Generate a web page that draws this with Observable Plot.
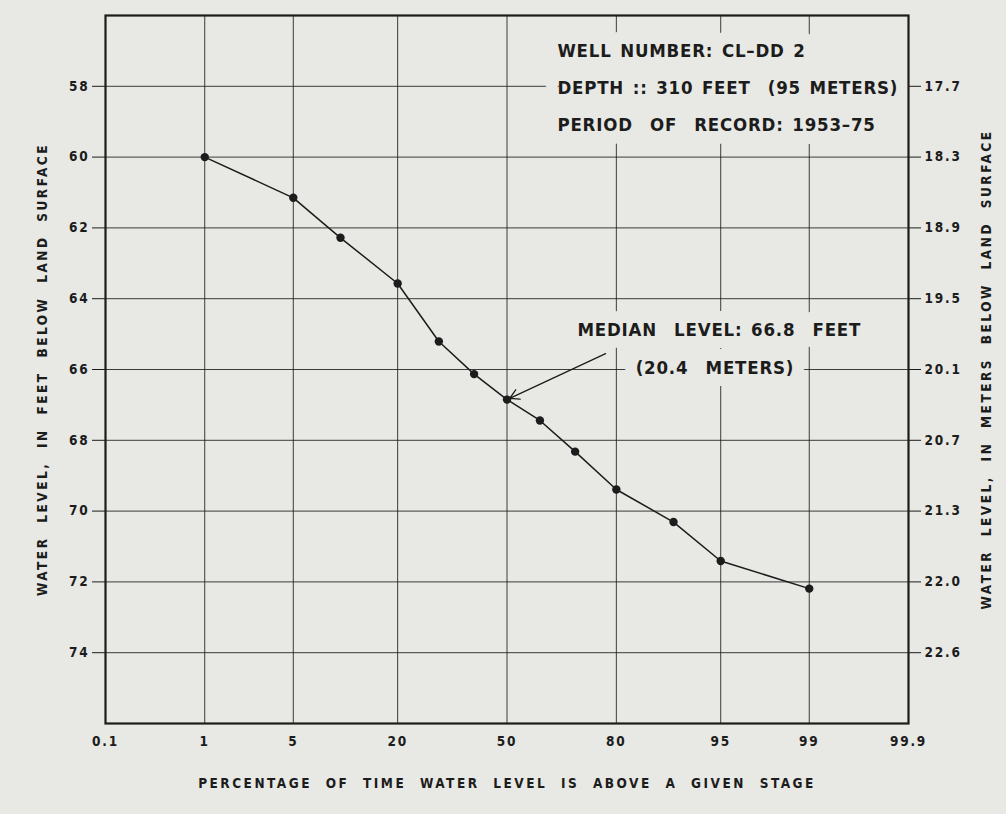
<!DOCTYPE html>
<html>
<head>
<meta charset="utf-8">
<script src="https://cdn.jsdelivr.net/npm/d3@7"></script>
<script src="https://cdn.jsdelivr.net/npm/@observablehq/plot@0.6"></script>
<style>
  html, body { margin: 0; padding: 0; background: #e8e8e4; }
  #chart svg { display: block; }
  #chart text { font-family: "DejaVu Sans Condensed", "DejaVu Sans", sans-serif; }
  [aria-label="y-axis tick label"] text, [aria-label="x-axis tick label"] text { letter-spacing: 1.8px; font-weight: bold; }
  [aria-label="y-axis label"] text, [aria-label="x-axis label"] text { letter-spacing: 2.5px; word-spacing: 7px; font-weight: bold; }
  .note text { letter-spacing: 0.8px; word-spacing: 2px; font-weight: bold; }
</style>
</head>
<body>
<div id="chart"></div>
<script>
// ---- data ----
const percentTicks = [0.1, 1, 5, 20, 50, 80, 95, 99, 99.9];
const percentLabels = ["0.1", "1", "5", "20", "50", "80", "95", "99", "99.9"];
const feetTicks = [58, 60, 62, 64, 66, 68, 70, 72, 74];
const meterLabels = ["17.7", "18.3", "18.9", "19.5", "20.1", "20.7", "21.3", "22.0", "22.6"];
const percentExceeded = [1, 5, 10, 20, 30, 40, 50, 60, 70, 80, 90, 95, 99];
const waterLevelFeet = [60.0, 61.15, 62.28, 63.57, 65.21, 66.13, 66.85, 67.44, 68.32, 69.39, 70.31, 71.41, 72.19];
const infoLines = ["WELL NUMBER: CL–DD 2", "DEPTH :: 310 FEET  (95 METERS)", "PERIOD  OF  RECORD: 1953–75"];
const infoPercent = [65.1, 65.1, 65.1];
const infoFeet = [57.0, 58.05, 59.1];
const medianLines = ["MEDIAN  LEVEL: 66.8  FEET", "(20.4  METERS)"];
const medianPercent = [70.6, 83.9];
const medianFeet = [64.9, 65.95];
const arrowFrom = {p: 77.6, f: 65.55};
const arrowTo = {p: 50, f: 66.85};

// inverse normal CDF (probability scale)
function probit(p) {
  const a = [-3.969683028665376e+01, 2.209460984245205e+02, -2.759285104469687e+02, 1.383577518672690e+02, -3.066479806614716e+01, 2.506628277459239e+00];
  const b = [-5.447609879822406e+01, 1.615858368580409e+02, -1.556989798598866e+02, 6.680131188771972e+01, -1.328068155288572e+01];
  const c = [-7.784894002430293e-03, -3.223964580411365e-01, -2.400758277161838e+00, -2.549732539343734e+00, 4.374664141464968e+00, 2.938163982698783e+00];
  const d = [7.784695709041462e-03, 3.224671290700398e-01, 2.445134137142996e+00, 3.754408661907416e+00];
  const pl = 0.02425, ph = 1 - pl;
  let q, r;
  if (p < pl) { q = Math.sqrt(-2 * Math.log(p)); return (((((c[0]*q+c[1])*q+c[2])*q+c[3])*q+c[4])*q+c[5]) / ((((d[0]*q+d[1])*q+d[2])*q+d[3])*q+1); }
  if (p > ph) { q = Math.sqrt(-2 * Math.log(1 - p)); return -(((((c[0]*q+c[1])*q+c[2])*q+c[3])*q+c[4])*q+c[5]) / ((((d[0]*q+d[1])*q+d[2])*q+d[3])*q+1); }
  q = p - 0.5; r = q * q;
  return (((((a[0]*r+a[1])*r+a[2])*r+a[3])*r+a[4])*r+a[5])*q / (((((b[0]*r+b[1])*r+b[2])*r+b[3])*r+b[4])*r+1);
}
const px = (pct) => probit(pct / 100);

const points = percentExceeded.map((p, i) => ({x: px(p), y: waterLevelFeet[i]}));
const xTickPos = percentTicks.map(px);
const xLabelOf = new Map(xTickPos.map((v, i) => [v, percentLabels[i]]));
const mLabelOf = new Map(feetTicks.map((v, i) => [v, meterLabels[i]]));
const info = infoLines.map((t, i) => ({t, x: px(infoPercent[i]), y: infoFeet[i]}));
const med = medianLines.map((t, i) => ({t, x: px(medianPercent[i]), y: medianFeet[i]}));
const gridX = xTickPos.slice(1, -1);

const bg = "#e8e8e4";
const ink = "#1c1c1c";

const chart = Plot.plot({
  width: 1006,
  height: 814,
  marginLeft: 105,
  marginRight: 98,
  marginTop: 15,
  marginBottom: 91,
  style: {background: bg, color: ink, fontSize: "13px"},
  x: {domain: [px(0.1), px(99.9)]},
  y: {domain: [56, 76], reverse: true},
  marks: [
    Plot.gridX(gridX, {stroke: ink, strokeOpacity: 0.85, strokeWidth: 1}),
    Plot.gridY(feetTicks, {stroke: ink, strokeOpacity: 0.85, strokeWidth: 1}),
    Plot.axisX(xTickPos, {tickSize: 0, tickPadding: 13, tickFormat: (d) => xLabelOf.get(d), fontSize: 13.5,
      label: "PERCENTAGE OF TIME WATER LEVEL IS ABOVE A GIVEN STAGE", labelAnchor: "center", labelArrow: "none", labelOffset: 64}),
    Plot.axisY(feetTicks, {anchor: "left", tickSize: 13, tickPadding: 3, tickFormat: (d) => String(d), fontSize: 13.5,
      label: "WATER LEVEL, IN FEET BELOW LAND SURFACE", labelAnchor: "center", labelArrow: "none", labelOffset: 68}),
    Plot.axisY(feetTicks, {anchor: "right", tickSize: 12, tickPadding: 4, tickFormat: (d) => mLabelOf.get(d), fontSize: 13.5,
      label: "WATER LEVEL, IN METERS BELOW LAND SURFACE", labelAnchor: "center", labelArrow: "none", labelOffset: 82}),
    Plot.text(info, {x: "x", y: "y", text: "t", textAnchor: "start", fontSize: 18.5, fill: ink,
      stroke: bg, strokeWidth: 26, className: "note"}),
    Plot.text(med, {x: "x", y: "y", text: "t", textAnchor: "start", fontSize: 18.5, fill: ink,
      stroke: bg, strokeWidth: 24, className: "note"}),
    Plot.frame({stroke: ink, strokeWidth: 2.2}),
    Plot.line(points, {x: "x", y: "y", stroke: ink, strokeWidth: 1.5}),
    Plot.dot(points, {x: "x", y: "y", r: 4.2, fill: ink}),
    Plot.arrow([{x1: px(arrowFrom.p), y1: arrowFrom.f, x2: px(arrowTo.p), y2: arrowTo.f}],
      {x1: "x1", y1: "y1", x2: "x2", y2: "y2", stroke: ink, strokeWidth: 1.3, headLength: 12, insetEnd: 3})
  ]
});
document.getElementById("chart").appendChild(chart);
</script>
</body>
</html>
